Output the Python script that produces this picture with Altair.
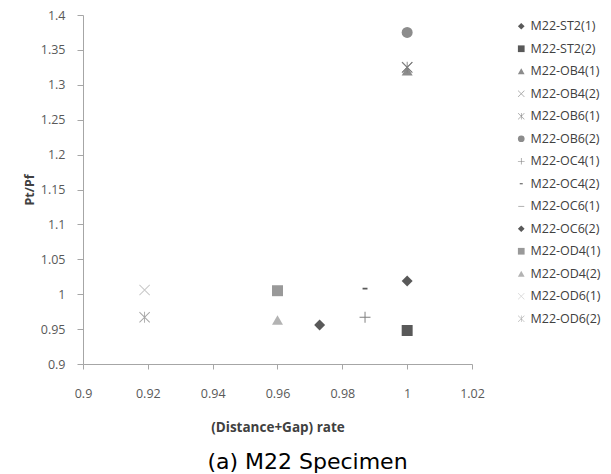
import altair as alt
import pandas as pd

series = ["M22-ST2(1)", "M22-ST2(2)", "M22-OB4(1)", "M22-OB4(2)", "M22-OB6(1)",
          "M22-OB6(2)", "M22-OC4(1)", "M22-OC4(2)", "M22-OC6(1)", "M22-OC6(2)",
          "M22-OD4(1)", "M22-OD4(2)", "M22-OD6(1)", "M22-OD6(2)"]
rate = [1.0, 1.0, 1.0, 1.0, 1.0, 1.0, 0.987, 0.987, None, 0.973, 0.96, 0.96, 0.919, 0.919]
ptpf = [1.019, 0.948, 1.32, 1.325, 1.325, 1.375, 0.967, 1.008, None, 0.956, 1.005, 0.963, 1.006, 0.967]

colors = ["#595959", "#595959", "#8c8c8c", "#7f7f7f", "#7f7f7f", "#8c8c8c", "#7f7f7f",
          "#595959", "#7f7f7f", "#595959", "#999999", "#b3b3b3", "#c8c8c8", "#a6a6a6"]

XS = "M-1,-0.88L-0.88,-1L1,0.88L0.88,1Z M1,-0.88L-0.88,1L-1,0.88L0.88,-1Z"
STAR = XS + " M-0.08,-1H0.08V1H-0.08Z"
PLUS = "M-1,-0.09H1V0.09H-1Z M-0.09,-1H0.09V1H-0.09Z"
DASH_S = "M-0.45,-0.16H0.45V0.16H-0.45Z"
DASH_L = "M-0.9,-0.09H0.9V0.09H-0.9Z"
shapes = ["diamond", "square", "triangle-up", XS, STAR, "circle", PLUS, DASH_S, DASH_L,
          "diamond", "square", "triangle-up", XS, STAR]

x_ticks = [0.9, 0.92, 0.94, 0.96, 0.98, 1.0, 1.02]
y_ticks = [0.9, 0.95, 1.0, 1.05, 1.1, 1.15, 1.2, 1.25, 1.3, 1.35, 1.4]

df = pd.DataFrame({"series": series, "rate": rate, "ptpf": ptpf}).dropna()

FONT = "Open Sans"

chart = alt.Chart(df).mark_point(filled=True, opacity=1, size=120).encode(
    x=alt.X("rate:Q", scale=alt.Scale(domain=[0.9, 1.02], nice=False, zero=False),
            axis=alt.Axis(values=x_ticks, format="~g", title="(Distance+Gap) rate",
                          grid=False, tickSize=5, labelPadding=18, titlePadding=21,
                          domainColor="#a6a6a6", tickColor="#a6a6a6",
                          labelColor="#595959", labelFontSize=12.5, labelFont=FONT,
                          titleFont=FONT, titleFontSize=13.5, titleFontWeight="bold",
                          titleColor="#404040")),
    y=alt.Y("ptpf:Q", scale=alt.Scale(domain=[0.9, 1.4], nice=False, zero=False),
            axis=alt.Axis(values=y_ticks, format="~g", title="Pt/Pf",
                          grid=False, tickSize=6, labelPadding=12, titlePadding=4,
                          domainColor="#a6a6a6", tickColor="#a6a6a6",
                          labelColor="#595959", labelFontSize=12.5, labelFont=FONT,
                          titleFont=FONT, titleFontSize=12.5, titleFontWeight="bold",
                          titleColor="#404040")),
    color=alt.Color("series:N", scale=alt.Scale(domain=series, range=colors),
                    legend=alt.Legend(title=None, orient="none", legendX=432, legendY=5,
                                      labelFont=FONT, labelFontSize=12.5, labelColor="#404040",
                                      symbolSize=45, rowPadding=9.5, labelOffset=3,
                                      symbolStrokeWidth=0)),
    shape=alt.Shape("series:N", scale=alt.Scale(domain=series, range=shapes), legend=None),
).properties(
    width=389, height=349,
    autosize=alt.AutoSizeParams(type="none"),
    padding={"left": 83, "top": 15, "right": 139, "bottom": 110},
    title=alt.Title("(a) M22 Specimen", orient="bottom", font="DejaVu Sans",
                    fontSize=22, fontWeight="normal", color="#000000", offset=18, dx=30),
).configure_view(stroke=None).configure_axis(labelFlush=False)

chart.save("out.html", embed_options={"renderer": "svg", "actions": False})
